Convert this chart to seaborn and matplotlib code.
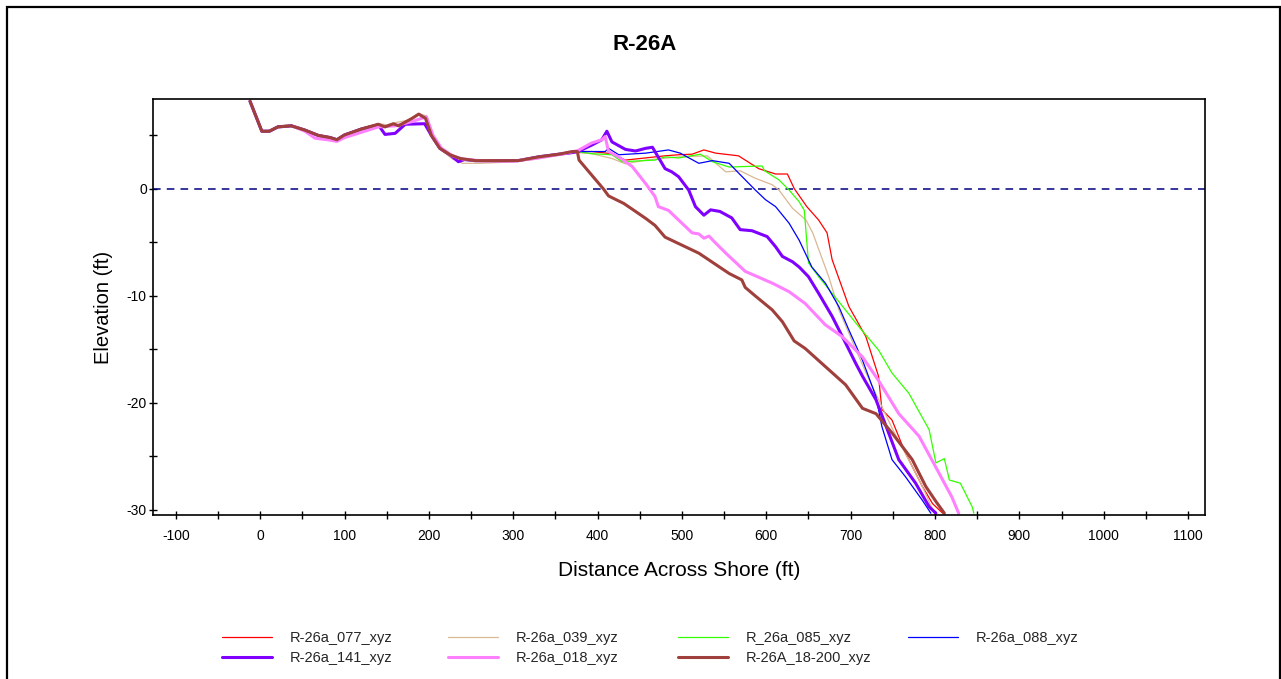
import matplotlib
matplotlib.use("Agg")
import matplotlib.pyplot as plt
from matplotlib.lines import Line2D
from matplotlib.patches import Rectangle
from matplotlib.ticker import MultipleLocator
import seaborn as sns

# Dune crest shared by the 077, 085, 088 and 18-200 surveys (ft, ft)
crest_x = [-12, 2, 11, 21, 37, 53, 69, 83, 91, 100, 120, 140, 148, 158, 164, 180, 188, 196,
           203, 213, 225, 237, 255, 282, 306, 330, 354, 370, 376]
crest_y = [8.2, 5.4, 5.4, 5.8, 5.9, 5.5, 5.0, 4.8, 4.6, 5.05, 5.6, 6.05, 5.8, 6.1, 5.9, 6.6, 7.0, 6.6,
           5.0, 3.8, 3.2, 2.85, 2.65, 2.65, 2.65, 3.0, 3.25, 3.5, 3.5]

# Seaward parts of the profiles
r077_x = [393, 417, 433, 480, 496, 512, 526, 540, 567, 591, 611, 625, 633, 648, 662, 672, 678, 688,
          698, 718, 733, 737, 749, 765, 785, 797, 809]
r077_y = [3.5, 3.3, 2.7, 3.1, 3.2, 3.25, 3.65, 3.35, 3.1, 1.9, 1.4, 1.4, 0.05, -1.65, -2.9, -4.1, -6.6, -8.8,
          -11.0, -13.8, -17.5, -20.6, -21.6, -24.7, -27.8, -29.4, -30.3]

r085_x = [393, 417, 429, 468, 480, 496, 522, 536, 556, 575, 595, 598, 615, 627, 639, 645, 650, 662,
          678, 710, 733, 749, 769, 793, 801, 811, 817, 830, 844, 846]
r085_y = [3.3, 3.2, 2.55, 2.7, 3.0, 2.9, 3.25, 2.55, 2.05, 2.1, 2.15, 1.7, 0.85, -0.1, -1.2, -2.0, -6.9, -8.2,
          -9.75, -12.9, -15.05, -17.2, -19.1, -22.5, -25.6, -25.2, -27.2, -27.5, -29.7, -30.3]

r088_x = [393, 409, 413, 425, 457, 484, 498, 520, 536, 556, 567, 587, 599, 611, 627, 639, 654, 670,
          686, 698, 714, 730, 737, 749, 765, 785, 795]
r088_y = [3.5, 3.5, 3.8, 3.2, 3.35, 3.65, 3.35, 2.4, 2.65, 2.4, 1.5, -0.1, -1.0, -1.65, -3.2, -4.8, -7.3, -8.8,
          -11.0, -13.2, -16.0, -19.4, -22.2, -25.3, -26.9, -29.1, -30.3]

r200_x = [378, 393, 407, 413, 431, 445, 457, 468, 480, 520, 556, 571, 575, 587, 607, 619, 633, 646,
          670, 694, 714, 730, 749, 773, 789, 801, 811]
r200_y = [2.7, 1.3, 0.0, -0.65, -1.35, -2.1, -2.75, -3.4, -4.5, -6.0, -7.9, -8.5, -9.2, -10.0, -11.3, -12.4, -14.2, -14.9,
          -16.6, -18.3, -20.5, -21.0, -22.8, -25.3, -27.8, -29.2, -30.3]

# Full profiles
r039_x = [-12, 2, 11, 21, 37, 53, 69, 83, 91, 100, 120, 140, 150, 160, 180, 190, 198, 205, 215, 228,
          240, 260, 290, 320, 350, 376, 393, 417, 433, 457, 496, 530, 552, 569, 587, 607, 615, 631,
          647, 655, 674, 686, 698, 706, 720, 735, 750, 770, 785, 799]
r039_y = [8.2, 5.4, 5.5, 5.9, 6.0, 5.6, 5.1, 4.9, 4.7, 5.1, 5.7, 6.1, 6.0, 6.2, 6.5, 7.0, 6.8, 5.0, 3.6, 2.8,
          2.4, 2.4, 2.5, 2.7, 3.1, 3.4, 3.3, 2.85, 2.35, 2.7, 3.0, 3.1, 1.6, 1.7, 1.0, 0.4, -0.1, -1.8,
          -2.9, -4.1, -8.2, -11.3, -13.5, -15.0, -17.5, -20.0, -22.5, -25.5, -27.8, -30.3]

r141_x = [-12, 2, 11, 21, 37, 53, 69, 83, 91, 100, 120, 140, 148, 160, 172, 195, 203, 213, 225, 235,
          242, 255, 282, 306, 330, 354, 370, 377, 393, 405, 411, 417, 433, 445, 457, 465, 480, 488,
          496, 508, 516, 526, 534, 545, 559, 569, 583, 601, 611, 619, 631, 639, 650, 662, 678, 694,
          706, 714, 730, 745, 757, 777, 793, 801]
r141_y = [8.2, 5.4, 5.4, 5.8, 5.9, 5.5, 5.0, 4.8, 4.6, 5.05, 5.6, 6.0, 5.1, 5.2, 6.05, 6.1, 5.0, 3.8, 3.2, 2.55,
          2.75, 2.65, 2.65, 2.65, 3.0, 3.25, 3.4, 3.5, 4.1, 4.6, 5.4, 4.4, 3.7, 3.55, 3.8, 3.9, 1.9, 1.6,
          1.15, -0.1, -1.65, -2.45, -1.95, -2.1, -2.7, -3.8, -3.9, -4.45, -5.4, -6.3, -6.8, -7.3, -8.2, -9.75, -11.9, -14.4,
          -16.3, -17.5, -19.7, -22.8, -25.3, -27.5, -29.7, -30.3]

r018_x = [41, 53, 65, 80, 91, 100, 120, 140, 160, 180, 197, 205, 215, 228, 240, 260, 300, 330, 360, 377,
          393, 405, 409, 413, 425, 441, 457, 468, 472, 484, 496, 512, 520, 526, 532, 538, 552, 575,
          607, 627, 646, 670, 690, 714, 733, 757, 781, 805, 820, 828]
r018_y = [5.8, 5.4, 4.75, 4.6, 4.45, 4.8, 5.3, 5.8, 5.9, 6.3, 6.75, 5.0, 3.8, 3.1, 2.8, 2.65, 2.6, 2.9, 3.3, 3.6,
          4.3, 4.6, 4.9, 3.5, 3.0, 2.1, 0.5, -0.7, -1.65, -2.0, -2.9, -4.1, -4.2, -4.6, -4.4, -4.9, -6.0, -7.7,
          -8.8, -9.6, -10.7, -12.7, -13.8, -15.7, -17.9, -21.0, -23.1, -26.6, -28.8, -30.3]

labels = ["R-26a_077_xyz", "R-26a_039_xyz", "R_26a_085_xyz", "R-26a_088_xyz",
          "R-26a_141_xyz", "R-26a_018_xyz", "R-26A_18-200_xyz"]
colors = ["#FF0000", "#D9B892", "#33FF00", "#0000FF", "#8000FF", "#FF80FF", "#A0403C"]
widths = [0.9, 0.9, 0.9, 0.9, 2.2, 2.2, 2.2]

profiles = [
    (crest_x + r077_x, crest_y + r077_y),
    (r039_x, r039_y),
    (crest_x + r085_x, crest_y + r085_y),
    (crest_x + r088_x, crest_y + r088_y),
    (r141_x, r141_y),
    (r018_x, r018_y),
    (crest_x + r200_x, crest_y + r200_y),
]

sns.set_theme(style="white")
plt.rcParams["font.family"] = ["Liberation Sans", "DejaVu Sans"]
plt.rcParams["axes.unicode_minus"] = False

fig = plt.figure(figsize=(12.81, 6.79), dpi=100)
ax = fig.add_axes([153 / 1281, 1 - 515 / 679, (1205 - 153) / 1281, (515 - 99) / 679])

ax.axhline(0, color="#000080", linestyle=(0, (5, 4)), linewidth=1.1, zorder=1)

for (xs, ys), lab, col, lw in zip(profiles, labels, colors, widths):
    sns.lineplot(x=xs, y=ys, sort=False, estimator=None, color=col, linewidth=lw, ax=ax, zorder=2)

ax.set_xlim(-127, 1120)
ax.set_ylim(-30.47, 8.41)
ax.set_xticks(range(-100, 1101, 100))
ax.xaxis.set_minor_locator(MultipleLocator(50))
ax.set_yticks([-30, -20, -10, 0])
ax.yaxis.set_minor_locator(MultipleLocator(5))
ax.tick_params(which="both", direction="inout", length=6, width=1, color="black",
               labelsize=10, labelcolor="black")
ax.tick_params(axis="x", which="both", bottom=True, pad=7)
ax.tick_params(axis="y", which="both", left=True, pad=1.5)
for sp in ax.spines.values():
    sp.set_visible(True)
    sp.set_color("black")
    sp.set_linewidth(1.2)

ax.set_xlabel("Distance Across Shore (ft)", fontsize=15, labelpad=13, color="black")
ax.set_ylabel("Elevation (ft)", fontsize=14.5, labelpad=9.5, color="black")

fig.text(645 / 1281, 1 - 44 / 679, "R-26A", ha="center", va="center",
         fontsize=16, fontweight="bold", color="black")

# Legend laid out in four fixed-width columns below the axes
handles = [Line2D([], [], color=c, linewidth=w) for c, w in zip(colors, widths)]
col_x = [222, 448, 678, 908]
groups = [[0, 4], [1, 5], [2, 6], [3]]
for cx, idx in zip(col_x, groups):
    fig.legend([handles[i] for i in idx], [labels[i] for i in idx],
               loc="upper left", bbox_to_anchor=(cx / 1281, 1 - 631 / 679),
               frameon=False, fontsize=10.5, handlelength=3.4, handletextpad=1.25,
               labelspacing=0.42, borderpad=0, borderaxespad=0)

# Outer frame around the figure
fig.patches.append(Rectangle((7 / 1281, -0.05), (1280 - 7) / 1281, 1.05 - 7 / 679,
                             transform=fig.transFigure, fill=False,
                             edgecolor="black", linewidth=1.6, zorder=10))

fig.savefig("out.png", dpi=100)
